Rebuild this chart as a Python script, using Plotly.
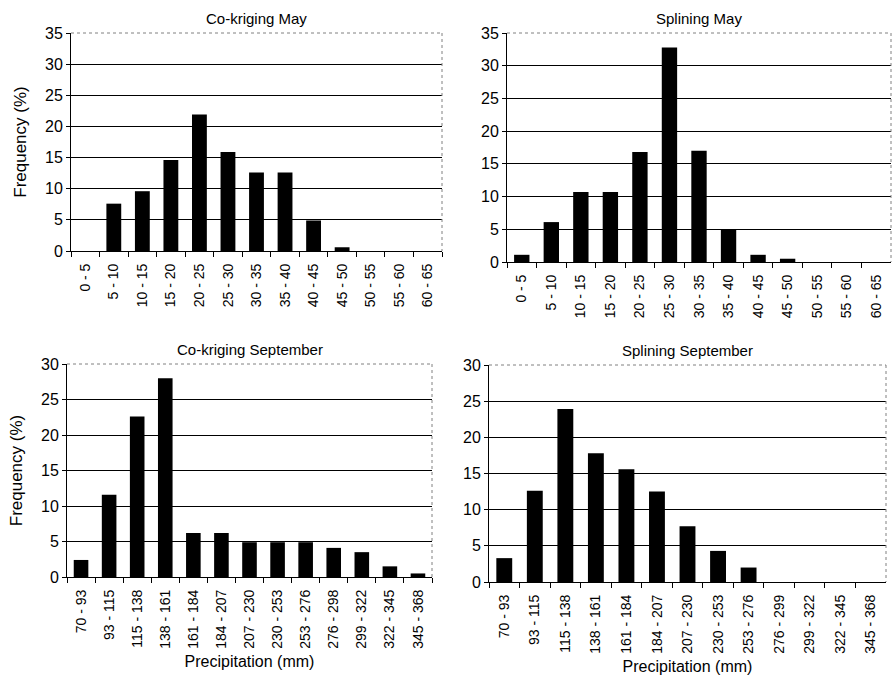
import plotly.graph_objects as go

W, H = 894, 683

may_cats = ["0 - 5", "5 - 10", "10 - 15", "15 - 20", "20 - 25", "25 - 30", "30 - 35",
            "35 - 40", "40 - 45", "45 - 50", "50 - 55", "55 - 60", "60 - 65"]
sep_cats_ck = ["70 - 93", "93 - 115", "115 - 138", "138 - 161", "161 - 184", "184 - 207",
               "207 - 230", "230 - 253", "253 - 276", "276 - 298", "299 - 322", "322 - 345", "345 - 368"]
sep_cats_sp = ["70 - 93", "93 - 115", "115 - 138", "138 - 161", "161 - 184", "184 - 207",
               "207 - 230", "230 - 253", "253 - 276", "276 - 299", "299 - 322", "322 - 345", "345 - 368"]

ck_may = [0, 7.6, 9.6, 14.6, 21.9, 15.9, 12.6, 12.6, 4.9, 0.6, 0, 0, 0]
sp_may = [1.1, 6.1, 10.7, 10.7, 16.8, 32.8, 17.0, 5.0, 1.1, 0.5, 0, 0, 0]
ck_sep = [2.4, 11.6, 22.6, 28.0, 6.2, 6.2, 4.9, 4.9, 4.9, 4.1, 3.5, 1.5, 0.5]
sp_sep = [3.3, 12.6, 23.9, 17.8, 15.6, 12.5, 7.7, 4.3, 2.0, 0, 0, 0, 0]

titles = ["Co-kriging May", "Splining May", "Co-kriging September", "Splining September"]

# plot-area pixel boxes: (x0, x1, ytop, ybottom)
boxes = [(71, 442, 33, 251), (507, 891, 33, 262), (67, 432, 364, 577), (489, 886, 365, 582)]
ranges = [35, 35, 30, 30]
data = [(may_cats, ck_may), (may_cats, sp_may), (sep_cats_ck, ck_sep), (sep_cats_sp, sp_sep)]

FONT = "Liberation Sans, Arial, sans-serif"
fig = go.Figure()
layout = dict(width=W, height=H, margin=dict(l=0, r=0, t=0, b=0),
              paper_bgcolor="white", plot_bgcolor="white", showlegend=False,
              bargap=0.48, font=dict(family=FONT, color="black"))
annotations = []
shapes = []
for i, ((cats, vals), (x0, x1, yt, yb), rmax, title) in enumerate(zip(data, boxes, ranges, titles)):
    n = "" if i == 0 else str(i + 1)
    fig.add_trace(go.Bar(x=cats, y=vals, marker=dict(color="black", line=dict(width=0)),
                         xaxis="x" + n, yaxis="y" + n))
    layout["xaxis" + n] = dict(domain=[x0 / W, x1 / W], anchor="y" + n, type="category",
                               tickangle=-90, tickfont=dict(size=14, color="black"), showline=True,
                               linecolor="black", linewidth=1, ticks="outside", ticklen=5,
                               tickson="boundaries", tickcolor="black", showgrid=False,
                               ticklabelstandoff=6, automargin=False, fixedrange=True)
    layout["yaxis" + n] = dict(domain=[1 - yb / H, 1 - yt / H], anchor="x" + n,
                               range=[0, rmax], dtick=5, tickfont=dict(size=16, color="black"),
                               showline=True, linecolor="black", linewidth=1,
                               ticks="outside", ticklen=4, tickcolor="black",
                               showgrid=True, gridcolor="black", gridwidth=1,
                               zeroline=False, automargin=False, fixedrange=True)
    annotations.append(dict(text=title, x=(x0 + x1) / 2 / W, y=1 - (yt - 4) / H,
                            xref="paper", yref="paper", xanchor="center", yanchor="bottom",
                            showarrow=False, font=dict(size=15, family=FONT, color="black")))
    shapes.append(dict(type="line", xref="paper", yref="paper", x0=x0 / W, x1=x1 / W,
                       y0=1 - yt / H, y1=1 - yt / H, line=dict(color="gray", width=1, dash="dot")))
    shapes.append(dict(type="line", xref="paper", yref="paper", x0=x1 / W, x1=x1 / W,
                       y0=1 - yt / H, y1=1 - yb / H, line=dict(color="gray", width=1, dash="dot")))

ytitle = dict(text="Frequency (%)", font=dict(size=17, color="black"), standoff=14)
xtitle = dict(text="Precipitation (mm)", font=dict(size=16, color="black"), standoff=8)
layout["yaxis"]["title"] = ytitle
layout["yaxis3"]["title"] = ytitle
layout["xaxis3"]["title"] = xtitle
layout["xaxis4"]["title"] = xtitle
layout["annotations"] = annotations
layout["shapes"] = shapes
fig.update_layout(**layout)
fig.write_html("out.html")
